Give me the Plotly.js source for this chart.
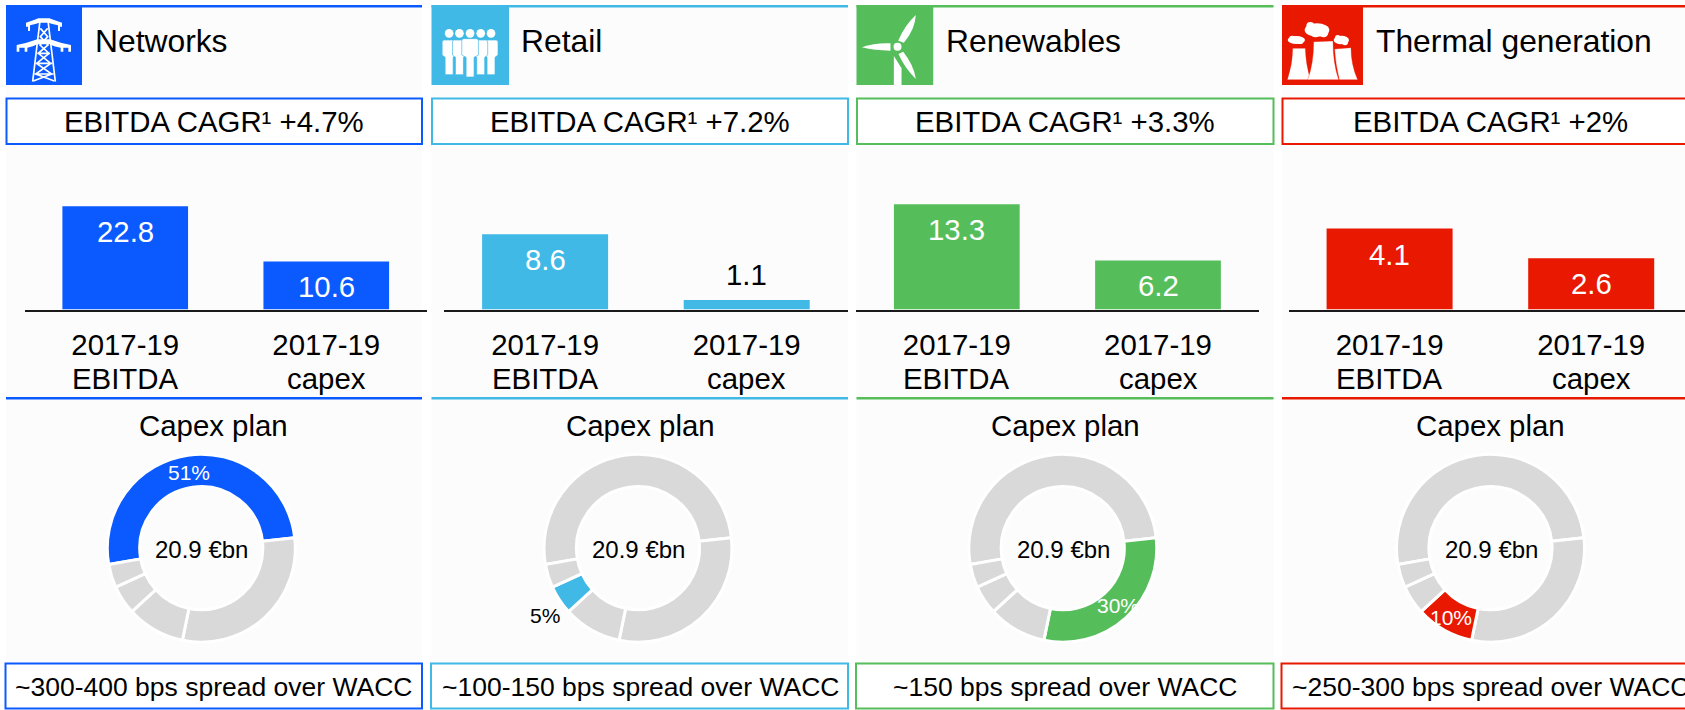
<!DOCTYPE html>
<html>
<head>
<meta charset="utf-8">
<script src="https://cdn.plot.ly/plotly-3.0.1.min.js"></script>
<style>html,body{margin:0;padding:0;background:#fff;overflow:hidden}#chart{width:1685px;height:710px}</style>
</head>
<body>
<div id="chart"></div>
<script>
// ---------- data ----------
const segments = ['Networks', 'Retail', 'Renewables', 'Thermal generation'];
const cagrLabels = ['+4.7%', '+7.2%', '+3.3%', '+2%'];
const ebitda = [22.8, 8.6, 13.3, 4.1];
const capex = [10.6, 1.1, 6.2, 2.6];
const barCategories = ['2017-19 EBITDA', '2017-19 capex'];
const barPeriods = ['2017-19', '2017-19'];
const barKinds = ['EBITDA', 'capex'];
const spreadLabels = ['~300-400 bps spread over WACC', '~100-150 bps spread over WACC', '~150 bps spread over WACC', '~250-300 bps spread over WACC'];
const shareNames = ['Networks', 'Renewables', 'Thermal generation', 'Retail', 'Other'];
const shareValues = [51, 30, 10, 5, 4];
const capexTotalLabel = '20.9 €bn';

// ---------- styles and layout constants ----------
const W = 1685, H = 710, FONT = '"Liberation Sans", Arial, sans-serif';
const colors = ['#0A5AFF', '#41B9E6', '#55BE5A', '#E91800'];
const GREY = '#D9D9D9', PANEL = '#FCFCFC';
const panels = [[6, 422], [431.5, 848], [856.5, 1273.5], [1282, 1699]];
const iconW = [76, 77.5, 76.7, 81];
const titleX = [92.5, 518.5, 943.5, 1373.5];
const textCx = [213.5, 640, 1065, 1490.5];
const barDom = [[24.7, 426.8], [444.3, 847.5], [856.2, 1258.6], [1288.8, 1692]];
const barScale = [4.53, 8.75, 7.92, 19.75]; // pixels per €bn
const BASE = 309.5, BAR_TOP = 150;
const donutC = [201.3, 638, 1062.8, 1490.5], DONUT_Y = 548.2, DONUT_R = 94;
const pctPos = [[189, 472, '#fff'], [545, 615, '#000'], [1117.7, 605, '#fff'], [1450.7, 617, '#fff']];
const fx = x => x / W, fy = y => 1 - y / H;

function icon(i) {
  const bg = colors[i];
  const wrap = (vb, body) => 'data:image/svg+xml,' + encodeURIComponent(
    '<svg xmlns="http://www.w3.org/2000/svg" viewBox="' + vb + '" preserveAspectRatio="none">' + body + '</svg>');
  if (i === 0) return wrap('18 15 228 240',
    '<g fill="#fff"><path d="M78 80 L78 68 Q100 62 115 55 L148 55 Q165 62 186 68 L186 80 L180 80 L180 93 L174 93 L174 76 Q155 72 145 68 L118 68 Q108 72 90 76 L90 93 L84 93 L84 80 Z"/>' +
    '<path d="M50 155 L50 135 Q80 130 112 118 L150 118 Q182 130 213 135 L213 155 L205 155 L205 143 L190 143 L190 155 L182 155 L182 143 Q160 140 150 133 L112 133 Q100 140 82 143 L82 155 L74 155 L74 143 L58 143 L58 155 Z"/></g>' +
    '<g stroke="#fff" stroke-width="5" fill="none"><path d="M120 62 L98 245 M144 62 L166 245"/>' +
    '<path d="M121 85 L143 110 L120 135 L147 160 L110 190 L155 222 L100 243 M143 85 L121 110 L144 135 L115 160 L152 190 L107 222 L163 243 M112 160 L150 160 M107 190 L157 190 M103 222 L161 222"/></g>');
  if (i === 1) {
    const person = (c, w, top, bot) =>
      '<circle cx="' + c + '" cy="100" r="13" fill="#fff"/>' +
      '<path d="M' + (c - w) + ' ' + (top + 6) + ' Q' + (c - w) + ' ' + top + ' ' + (c - w + 6) + ' ' + top + ' L' + (c + w - 6) + ' ' + top + ' Q' + (c + w) + ' ' + top + ' ' + (c + w) + ' ' + (top + 6) +
      ' L' + (c + w) + ' 165 L' + (c + 12) + ' 172 L' + (c + 12) + ' ' + bot + ' L' + (c - 12) + ' ' + bot + ' L' + (c - 12) + ' 172 L' + (c - w) + ' 165 Z" fill="#fff" stroke="' + bg + '" stroke-width="2"/>';
    return wrap('32 15 233 240', person(85, 21, 120, 224) + person(211, 21, 120, 224) + person(116, 21, 120, 224) + person(180, 21, 120, 224) + person(148, 25, 116, 231));
  }
  if (i === 2) return wrap('50 15 230 240',
    '<g fill="#fff"><path d="M175 122 Q195 75 228 45 Q225 90 192 128 Z"/><path d="M152 130 Q105 128 66 142 Q105 152 152 152 Z"/>' +
    '<path d="M176 162 Q195 205 228 237 Q222 195 190 155 Z"/><path d="M162 168 L185 205 L185 255 L162 255 Z"/><circle cx="173" cy="140" r="12"/></g>');
  return wrap('65 15 243 240',
    '<g fill="#fff"><ellipse cx="108" cy="120" rx="26" ry="12"/><circle cx="96" cy="117" r="10"/><circle cx="120" cy="122" r="10"/>' +
    '<ellipse cx="170" cy="90" rx="37" ry="20"/><circle cx="150" cy="78" r="12"/><circle cx="190" cy="98" r="14"/><circle cx="165" cy="100" r="12"/>' +
    '<ellipse cx="243" cy="120" rx="23" ry="13"/><circle cx="254" cy="127" r="9"/><circle cx="232" cy="113" r="8"/>' +
    '<g stroke="' + bg + '" stroke-width="1"><path d="M97 145 L135 145 Q136 190 150 239 L81 239 Q97 190 97 145Z"/>' +
    '<path d="M223 147 L272 143 Q272 195 292 239 L237 239 Q225 190 223 147Z"/><path d="M160 125 L218 123 Q218 190 235 239 L142 239 Q160 190 160 125Z"/></g></g>');
}

const traces = [], shapes = [], annotations = [], images = [];
const layout = {
  width: W, height: H, margin: {l: 0, r: 0, t: 0, b: 0}, autosize: false,
  paper_bgcolor: '#fff', plot_bgcolor: 'rgba(0,0,0,0)', showlegend: false,
  bargap: 0.375, font: {family: FONT, color: '#000'}, hovermode: false
};
const rect = (x0, y0, x1, y1, fill, line) => shapes.push({
  type: 'rect', xref: 'paper', yref: 'paper', layer: 'below', x0: fx(x0), x1: fx(x1), y0: fy(y1), y1: fy(y0),
  fillcolor: fill, line: line ? {color: line, width: 2} : {width: 0}
});
const label = (x, y, text, size, color, anchor) => annotations.push({
  xref: 'paper', yref: 'paper', x: fx(x), y: fy(y), text, showarrow: false,
  xanchor: anchor || 'center', yanchor: 'middle', font: {family: FONT, size, color: color || '#000'}
});

segments.forEach((seg, i) => {
  const c = colors[i], [px0, px1] = panels[i];
  const right = Math.min(px1, W);
  const suffix = i === 0 ? '' : String(i + 1);
  // backgrounds and frames
  rect(px0, 5, right, H, PANEL);
  rect(px0, 5, right, 7.4, c);
  rect(px0, 5, px0 + iconW[i], 85, c);
  rect(px0 + 0.5, 98.5, px1, 144, '#fff', c);
  rect(px0, 397, right, 399.6, c);
  rect(px0 - 0.5, 663.5, px1, 708.5, '#fff', c);
  images.push({source: icon(i), xref: 'paper', yref: 'paper', x: fx(px0), y: fy(5), sizex: iconW[i] / W, sizey: 80 / H,
    xanchor: 'left', yanchor: 'top', sizing: 'stretch', layer: 'above'});
  // text blocks
  label(titleX[i], 41, seg, 31.8, '#000', 'left');
  label(textCx[i], 121.5, 'EBITDA CAGR\u00B9 ' + cagrLabels[i], 29.4);
  label(textCx[i], 425.5, 'Capex plan', 29.4);
  label(textCx[i], 686.8, spreadLabels[i], 26.5);
  label(donutC[i] + 0.5, 549.5, capexTotalLabel, 24);

  // bars, on their own axes
  const vals = [ebitda[i], capex[i]];
  traces.push({type: 'bar', x: barCategories, y: vals, xaxis: 'x' + suffix, yaxis: 'y' + suffix,
    marker: {color: c, line: {width: 0}}, hoverinfo: 'skip'});
  const [d0, d1] = barDom[i];
  const catW = (d1 - d0) / 2;
  const dEnd = Math.min(d1, W);
  layout['xaxis' + suffix] = {
    domain: [fx(d0), fx(dEnd)], anchor: 'y' + suffix, type: 'category', categoryorder: 'array', categoryarray: barCategories,
    range: [-0.5, 1.5 - (d1 - dEnd) / catW], fixedrange: true, showgrid: false, zeroline: false,
    showline: true, linecolor: '#1a1a1a', linewidth: 2, ticks: '', tickmode: 'array', tickvals: barCategories, ticktext: barPeriods,
    tickangle: 0, tickfont: {family: FONT, size: 29.4, color: '#000'}, ticklabelstandoff: 8
  };
  layout['yaxis' + suffix] = {
    domain: [fy(BASE), fy(BAR_TOP)], anchor: 'x' + suffix, range: [0, (BASE - BAR_TOP) / barScale[i]],
    visible: false, fixedrange: true
  };
  vals.forEach((v, k) => {
    const outside = v * barScale[i] < 30;
    annotations.push({xref: 'x' + suffix, yref: 'y' + suffix, x: barCategories[k], y: v, text: String(v), showarrow: false,
      yanchor: 'middle', xanchor: 'center', yshift: outside ? 25 : -25.5,
      font: {family: FONT, size: 29.4, color: outside ? '#000' : '#fff'}});
    annotations.push({xref: 'x' + suffix, yref: 'paper', x: barCategories[k], y: fy(378.5), text: barKinds[k], showarrow: false,
      yanchor: 'middle', xanchor: 'center', font: {family: FONT, size: 29.4, color: '#000'}});
  });

  // donut: the slice of this segment is coloured
  const cx = donutC[i];
  traces.push({type: 'pie', labels: shareNames, values: shareValues, sort: false, direction: 'clockwise', rotation: 260,
    hole: 0.655, textinfo: 'none', hoverinfo: 'skip',
    domain: {x: [fx(cx - DONUT_R), fx(cx + DONUT_R)], y: [fy(DONUT_Y + DONUT_R), fy(DONUT_Y - DONUT_R)]},
    marker: {colors: shareNames.map(n => n === seg ? c : GREY), line: {color: '#fff', width: 3}}});
  const share = shareValues[shareNames.indexOf(seg)];
  label(pctPos[i][0], pctPos[i][1], share + '%', 21, pctPos[i][2]);
});

layout.shapes = shapes;
layout.annotations = annotations;
layout.images = images;
Plotly.newPlot('chart', traces, layout, {displayModeBar: false, staticPlot: true});
</script>
</body>
</html>
